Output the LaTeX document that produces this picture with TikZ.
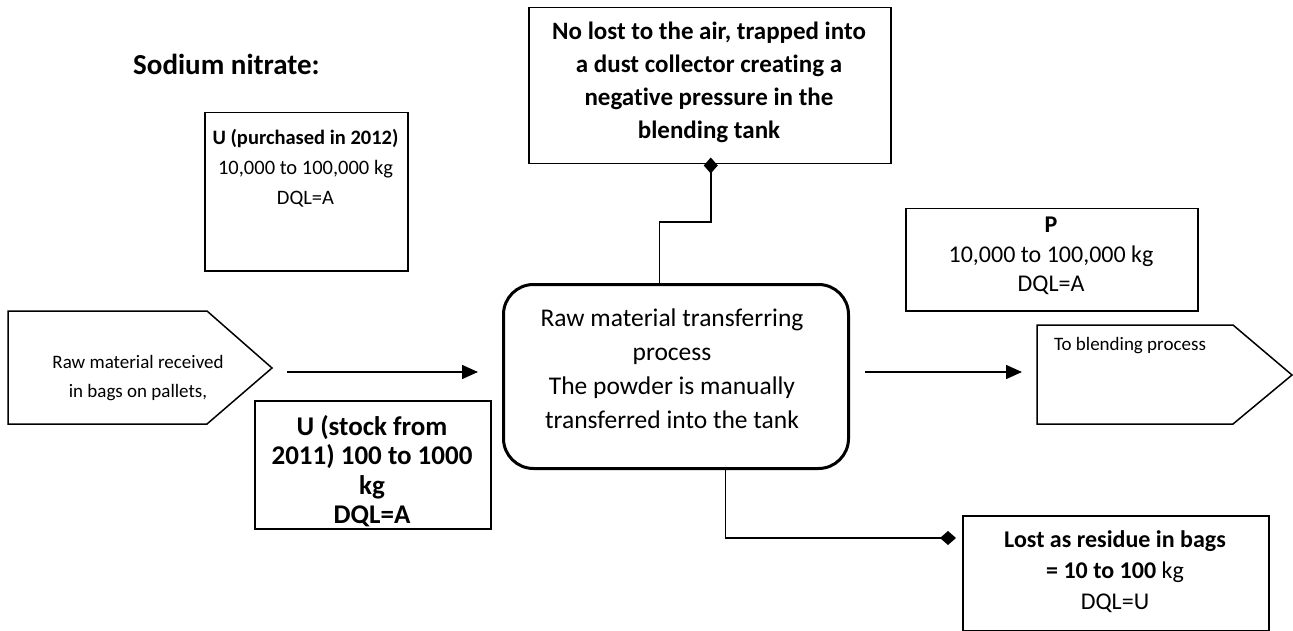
\documentclass[tikz,border=0pt]{standalone}
\usepackage{fontspec}
\setmainfont{Carlito}[Ligatures=NoCommon]
\usetikzlibrary{arrows.meta,calc}
\newcommand\setfs[2]{\fontsize{#1}{#2}\selectfont}

\begin{document}
\begin{tikzpicture}[x=1pt,y=-1pt,
  frame/.style={draw, line width=1.5pt, inner sep=0pt, anchor=north west},
  proc/.style={draw, line width=3pt, rounded corners=30pt, inner sep=0pt, anchor=north west},
  txt/.style={align=center, inner sep=0pt},
  flow/.style={line width=1.5pt, -{Triangle[length=16pt,width=14pt]}},
  tag/.style={line width=1.5pt, -{Diamond[length=16pt,width=14pt]}},
  pent/.style={draw, line width=1.5pt, line join=miter}]
\useasboundingbox (0,0) rectangle (1293,631);

% heading
\node[anchor=base west, inner sep=0pt, font=\bfseries\setfs{29}{35}] (title) at (133,75) {Sodium nitrate:};

% central process
\node[proc, minimum width=345pt, minimum height=184pt] (proc) at (502,283) {};
\node[txt, font=\setfs{25.5}{34}] (tProc) at (672,369)
  {Raw material transferring\\process\\The powder is manually\\transferred into the tank};

% dust collector box
\node[frame, minimum width=362pt, minimum height=156pt] (dust) at (528,7) {};
\node[txt, font=\bfseries\setfs{25}{33}] (tDust) at (709,82)
  {No lost to the air, trapped into\\a dust collector creating a\\negative pressure in the\\blending tank};

% purchased quantity
\node[frame, minimum width=203pt, minimum height=158pt] (pur) at (204,112) {};
\node[txt, font=\setfs{20.5}{30}] (tPur) at (305.5,168)
  {\bfseries U (purchased in 2012)\\10,000 to 100,000 kg\\DQL=A};

% stock quantity
\node[frame, minimum width=236pt, minimum height=128pt] (stock) at (254,400) {};
\node[txt, font=\bfseries\setfs{27}{29.5}] (tStock) at (372,471)
  {U (stock from\\2011) 100 to 1000\\kg\\DQL=A};

% product quantity
\node[frame, minimum width=292pt, minimum height=102pt] (prod) at (905,208) {};
\node[txt, font=\setfs{24}{29.5}] (tProd) at (1051,256)
  {\bfseries P\\10,000 to 100,000 kg\\DQL=A};

% residue loss
\node[frame, minimum width=306pt, minimum height=115pt] (loss) at (962,515) {};
\node[txt, font=\setfs{24}{31}] (tLoss) at (1115,572)
  {\bfseries Lost as residue in bags\\{\bfseries = 10 to 100} kg\\DQL=U};

% incoming material (pentagon pointing right)
\coordinate (inNW) at (8,311);
\coordinate (inNE) at (207,311);
\coordinate (inTip) at (272,368);
\coordinate (inSE) at (207,424);
\coordinate (inSW) at (8,424);
\draw[pent] (inNW) -- (inNE) -- (inTip) -- (inSE) -- (inSW) -- cycle;
\node[txt, font=\setfs{19}{29}] (tIn) at (138,378) {Raw material received\\in bags on pallets,};

% outgoing material (pentagon pointing right)
\coordinate (outNW) at (1037,325);
\coordinate (outNE) at (1233,325);
\coordinate (outTip) at (1292,375);
\coordinate (outSE) at (1233,424);
\coordinate (outSW) at (1037,424);
\draw[pent] (outNW) -- (outNE) -- (outTip) -- (outSE) -- (outSW) -- cycle;
\node[txt, font=\setfs{19}{24}] (tOut) at (1130,346) {To blending process};

% flows
\draw[flow] ([shift={(15,4)}]inTip) -- ([shift={(-24,89)}]proc.north west);
\draw[flow] ([shift={(15,89)}]proc.north east) -- ([shift={(-15,47)}]outNW);
\draw[tag] ([xshift=-16.5pt]proc.north) -- ++(0,-61) -| ([shift={(1,-7)}]dust.south);
\draw[tag] ([xshift=49.5pt]proc.south) |- ([shift={(-6,23)}]loss.north west);
\end{tikzpicture}
\end{document}
